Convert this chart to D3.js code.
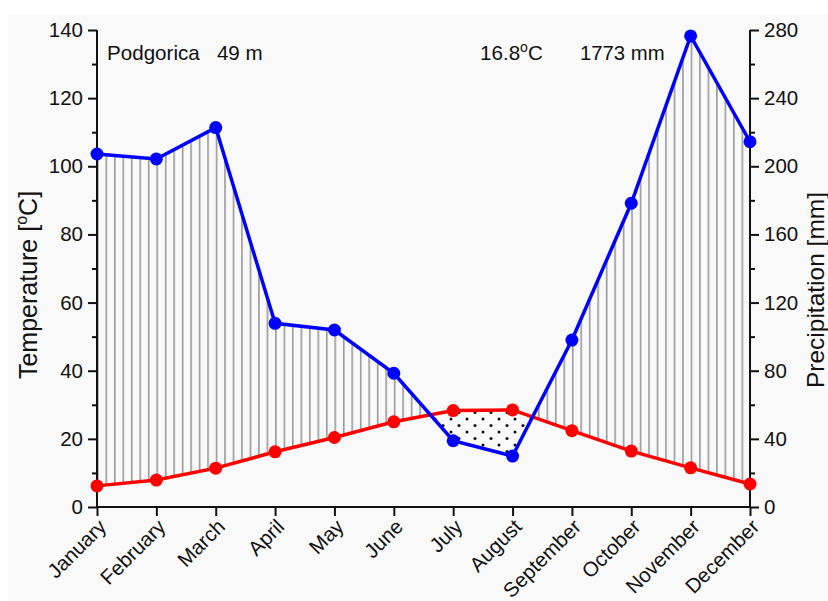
<!DOCTYPE html>
<html>
<head>
<meta charset="utf-8">
<script src="https://cdn.jsdelivr.net/npm/d3@7"></script>
<style>
  html, body { margin: 0; padding: 0; background: #ffffff; }
  svg { display: block; font-family: "Liberation Sans", Arial, sans-serif; }
</style>
</head>
<body>
<svg id="chart" width="828" height="601"></svg>
<script>
// Climate diagram for Podgorica (Walter–Lieth style)
const months = ["January", "February", "March", "April", "May", "June",
                "July", "August", "September", "October", "November", "December"];
const temperature = [6.2, 7.9, 11.4, 16.2, 20.4, 25.0, 28.3, 28.5, 22.4, 16.4, 11.5, 6.75];
const precipitation = [207.2, 204.3, 222.7, 107.8, 103.9, 78.5, 38.9, 29.9, 98.0, 178.3, 276.5, 214.4];
const tempTicks = [0, 20, 40, 60, 80, 100, 120, 140];
const tempMinorTicks = [10, 30, 50, 70, 90, 110, 130];
const precTicks = [0, 40, 80, 120, 160, 200, 240, 280];
const precMinorTicks = [20, 60, 100, 140, 180, 220, 260];
const station = "Podgorica   49 m";
const meanTemp = "16.8";
const annualPrec = "1773 mm";

const svg = d3.select("#chart");
const plotLeft = 97, plotRight = 750, plotTop = 30, plotBottom = 507;

// panel background
svg.append("rect").attr("x", 8).attr("y", 15).attr("width", 820).attr("height", 586)
  .attr("fill", "#f9f9f9");

const x = d3.scalePoint().domain(months).range([plotLeft, plotRight]);
const yT = d3.scaleLinear().domain([0, 140]).range([plotBottom, plotTop]);
const yP = d3.scaleLinear().domain([0, 280]).range([plotBottom, plotTop]);

const step = x.step();
const defs = svg.append("defs");

// vertical hatching for the humid period
const hatch = defs.append("pattern").attr("id", "hatch")
  .attr("patternUnits", "userSpaceOnUse")
  .attr("x", plotLeft).attr("y", 0)
  .attr("width", step / 7).attr("height", 10);
hatch.append("line").attr("x1", 0.8).attr("x2", 0.8).attr("y1", 0).attr("y2", 10)
  .attr("stroke", "#999999").attr("stroke-width", 1.6);

// dotted fill for the arid period
const dots = defs.append("pattern").attr("id", "dots")
  .attr("patternUnits", "userSpaceOnUse")
  .attr("x", 0).attr("y", 0)
  .attr("width", 16).attr("height", 13);
dots.append("circle").attr("cx", 3).attr("cy", 3).attr("r", 1.5).attr("fill", "#111");
dots.append("circle").attr("cx", 11).attr("cy", 9.5).attr("r", 1.5).attr("fill", "#111");

const idx = d3.range(months.length);

// clip: below the precipitation line
defs.append("clipPath").attr("id", "belowPrec").append("path")
  .attr("d", d3.area().x(i => x(months[i])).y0(plotBottom).y1(i => yP(precipitation[i]))(idx));
// clip: below the temperature line
defs.append("clipPath").attr("id", "belowTemp").append("path")
  .attr("d", d3.area().x(i => x(months[i])).y0(plotBottom).y1(i => yT(temperature[i]))(idx));

// humid: between temperature (below) and precipitation (above)
svg.append("path")
  .attr("d", d3.area().x(i => x(months[i])).y0(i => yT(temperature[i])).y1(plotTop)(idx))
  .attr("fill", "url(#hatch)")
  .attr("clip-path", "url(#belowPrec)");

// arid: precipitation below temperature
svg.append("path")
  .attr("d", d3.area().x(i => x(months[i])).y0(i => yP(precipitation[i])).y1(plotTop)(idx))
  .attr("fill", "url(#dots)")
  .attr("clip-path", "url(#belowTemp)");

// axes
const axisG = svg.append("g");

function styleAxis(size) {
  return g => {
    g.select(".domain").remove();
    g.selectAll("line").attr("stroke", "#111").attr("stroke-width", 2);
    g.selectAll("text").attr("fill", "#111").attr("font-family", "Liberation Sans, Arial, sans-serif")
      .attr("font-size", size);
  };
}

axisG.append("g").attr("transform", `translate(${plotLeft},0)`)
  .call(d3.axisLeft(yT).tickValues(tempTicks).tickSize(9).tickPadding(5))
  .call(styleAxis(20.5));
axisG.append("g").attr("transform", `translate(${plotLeft},0)`)
  .call(d3.axisLeft(yT).tickValues(tempMinorTicks).tickSize(5).tickFormat(""))
  .call(styleAxis(20.5));
axisG.append("g").attr("transform", `translate(${plotRight},0)`)
  .call(d3.axisRight(yP).tickValues(precTicks).tickSize(9).tickPadding(5))
  .call(styleAxis(20.5));
axisG.append("g").attr("transform", `translate(${plotRight},0)`)
  .call(d3.axisRight(yP).tickValues(precMinorTicks).tickSize(5).tickFormat(""))
  .call(styleAxis(20.5));

const xAxis = axisG.append("g").attr("transform", `translate(0,${plotBottom})`)
  .call(d3.axisBottom(x).tickSize(9).tickPadding(4))
  .call(styleAxis(20.5));
xAxis.selectAll("text")
  .attr("text-anchor", "end")
  .attr("dy", 0)
  .attr("y", 0)
  .attr("transform", "translate(10,21) rotate(-45)");

// axis lines
svg.append("line").attr("x1", plotLeft).attr("x2", plotLeft).attr("y1", plotTop).attr("y2", plotBottom + 1)
  .attr("stroke", "#111").attr("stroke-width", 2);
svg.append("line").attr("x1", plotRight).attr("x2", plotRight).attr("y1", plotTop).attr("y2", plotBottom + 1)
  .attr("stroke", "#111").attr("stroke-width", 2);
svg.append("line").attr("x1", plotLeft - 1).attr("x2", plotRight + 1).attr("y1", plotBottom).attr("y2", plotBottom)
  .attr("stroke", "#111").attr("stroke-width", 2);

// temperature curve
svg.append("path")
  .attr("d", d3.line().x(i => x(months[i])).y(i => yT(temperature[i]))(idx))
  .attr("fill", "none").attr("stroke", "#ff0000").attr("stroke-width", 3.5);
svg.append("g").selectAll("circle").data(idx).join("circle")
  .attr("cx", i => x(months[i])).attr("cy", i => yT(temperature[i])).attr("r", 6.5)
  .attr("fill", "#ff0000");

// precipitation curve
svg.append("path")
  .attr("d", d3.line().x(i => x(months[i])).y(i => yP(precipitation[i]))(idx))
  .attr("fill", "none").attr("stroke", "#0000ff").attr("stroke-width", 3.5);
svg.append("g").selectAll("circle").data(idx).join("circle")
  .attr("cx", i => x(months[i])).attr("cy", i => yP(precipitation[i])).attr("r", 6.5)
  .attr("fill", "#0000ff");

// axis titles
svg.append("text")
  .attr("transform", "translate(37,285) rotate(-90)")
  .attr("text-anchor", "middle").attr("font-size", 25).attr("fill", "#111")
  .call(t => {
    t.append("tspan").text("Temperature [");
    t.append("tspan").attr("font-size", 16).attr("dy", -10).text("o");
    t.append("tspan").attr("dy", 10).text("C]");
  });
svg.append("text")
  .attr("transform", "translate(824,290) rotate(-90)")
  .attr("text-anchor", "middle").attr("font-size", 24.5).attr("fill", "#111")
  .text("Precipitation [mm]");

// station header
svg.append("text").attr("x", 107).attr("y", 60).attr("font-size", 20.6).attr("fill", "#111")
  .style("white-space", "pre")
  .text(station);
svg.append("text").attr("x", 480).attr("y", 60).attr("font-size", 20.6).attr("fill", "#111")
  .call(t => {
    t.append("tspan").text(meanTemp);
    t.append("tspan").attr("font-size", 14).attr("dy", -8).text("o");
    t.append("tspan").attr("dy", 8).text("C");
  });
svg.append("text").attr("x", 580).attr("y", 60).attr("font-size", 20.3).attr("fill", "#111")
  .text(annualPrec);
</script>
</body>
</html>
